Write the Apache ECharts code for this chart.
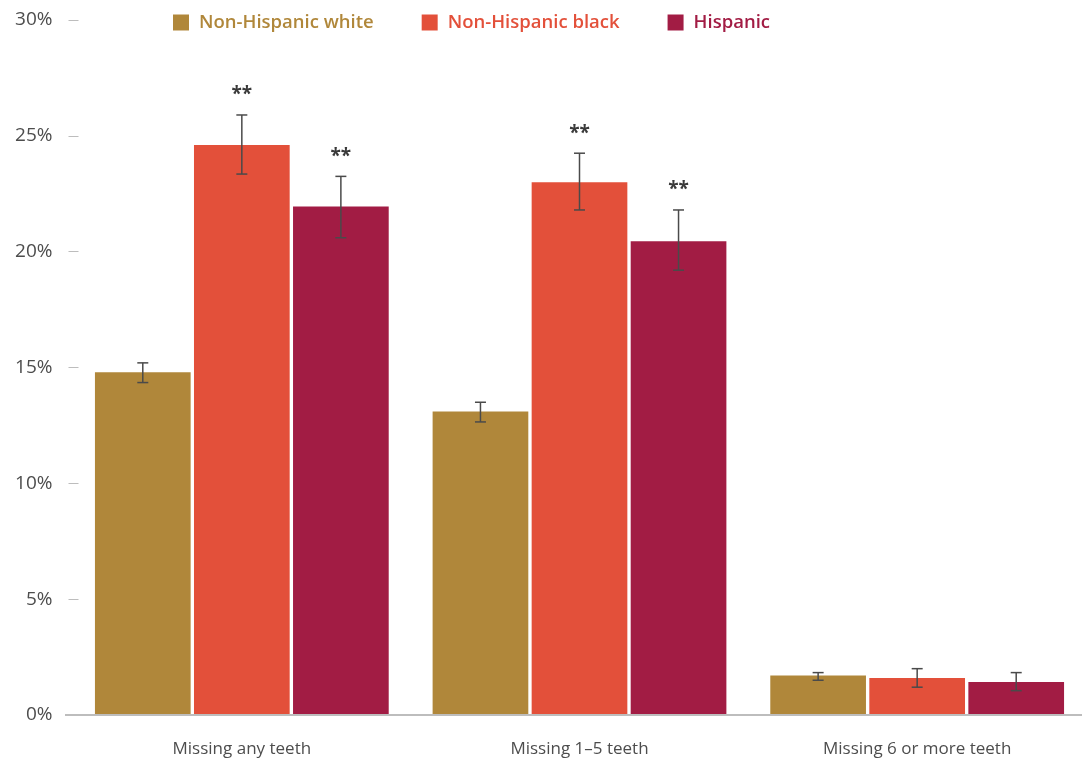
<!DOCTYPE html>
<html><head><meta charset="utf-8">
<script src="https://cdn.jsdelivr.net/npm/echarts@6/dist/echarts.min.js"></script>
<style>html,body{margin:0;padding:0;background:#fff}#c{width:1086px;height:761px}</style>
</head><body><div id="c"></div>
<script>
const categories = ['Missing any teeth', 'Missing 1–5 teeth', 'Missing 6 or more teeth'];
const seriesNames = ['Non-Hispanic white', 'Non-Hispanic black', 'Hispanic'];
const whiteValues = [14.8, 13.1, 1.7];
const blackValues = [24.6, 23.0, 1.6];
const hispanicValues = [21.95, 20.45, 1.42];
const whiteErr = [[14.35, 15.2], [12.65, 13.5], [1.5, 1.83]];
const blackErr = [[23.35, 25.9], [21.8, 24.25], [1.2, 2.0]];
const hispanicErr = [[20.6, 23.25], [19.2, 21.8], [1.05, 1.83]];
const whiteSig = ['', '', ''];
const blackSig = ['**', '**', ''];
const hispanicSig = ['**', '**', ''];
const yTicks = [0, 5, 10, 15, 20, 25, 30];

const colors = ['#B0873A', '#E3503A', '#A21C44'];
const FONT = 'Open Sans';
const CAT_GAP = 0.13, BAR_GAP = 0.035;

const chart = echarts.init(document.getElementById('c'), null, {renderer: 'canvas'});

function errSeries(idx, errs, sigs) {
  return {
    type: 'custom',
    name: seriesNames[idx] + ' err',
    z: 10,
    silent: true,
    data: errs.map((e, i) => [i, e[0], e[1], sigs[i]]),
    renderItem: function (params, api) {
      const band = api.size([1, 0])[0];
      const bw = band * (1 - CAT_GAP) / (3 + 2 * BAR_GAP);
      const off = (idx - 1) * bw * (1 + BAR_GAP);
      const lo = api.coord([api.value(0), api.value(1)]);
      const hi = api.coord([api.value(0), api.value(2)]);
      const x = lo[0] + off;
      const cap = 5.5;
      const st = {stroke: '#4a4a4a', lineWidth: 1.5};
      const children = [
        {type: 'line', shape: {x1: x, y1: lo[1], x2: x, y2: hi[1]}, style: st},
        {type: 'line', shape: {x1: x - cap, y1: lo[1], x2: x + cap, y2: lo[1]}, style: st},
        {type: 'line', shape: {x1: x - cap, y1: hi[1], x2: x + cap, y2: hi[1]}, style: st}
      ];
      const s = sigs[params.dataIndex];
      if (s) {
        children.push({type: 'text', x: x, y: hi[1] - 20, style: {text: s, fill: '#3a3a3a', font: 'bold 19px "' + FONT + '"', align: 'center', verticalAlign: 'middle'}});
      }
      return {type: 'group', children: children};
    }
  };
}

const option = {
  animation: false,
  textStyle: {fontFamily: FONT},
  grid: {left: 73, width: 1017, top: 20, bottom: 46, containLabel: false},
  legend: {
    top: 8, left: 168,
    itemWidth: 16, itemHeight: 16, itemGap: 48, icon: 'rect',
    textStyle: {fontSize: 18.5, fontWeight: 600, fontFamily: FONT, padding: [0, 0, 0, 5]},
    data: seriesNames.map((n, i) => ({name: n, textStyle: {color: colors[i]}}))
  },
  xAxis: {
    type: 'category', data: categories,
    axisLine: {show: false}, axisTick: {show: false},
    axisLabel: {color: '#4d4d4d', fontSize: 17, margin: 26}
  },
  yAxis: {
    type: 'value', min: 0, max: 30, interval: 5, offset: -5.5,
    axisLine: {show: false},
    axisTick: {show: true, length: 10, lineStyle: {color: '#bdbdbd', width: 1}},
    splitLine: {show: false},
    axisLabel: {color: '#4d4d4d', fontSize: 19, margin: 26, formatter: v => yTicks.includes(v) ? v + '%' : ''}
  },
  series: [
    {type: 'bar', name: seriesNames[0], data: whiteValues, itemStyle: {color: colors[0]}, barCategoryGap: (CAT_GAP * 100) + '%', barGap: (BAR_GAP * 100) + '%'},
    {type: 'bar', name: seriesNames[1], data: blackValues, itemStyle: {color: colors[1]}},
    {type: 'bar', name: seriesNames[2], data: hispanicValues, itemStyle: {color: colors[2]}},
    errSeries(0, whiteErr, whiteSig),
    errSeries(1, blackErr, blackSig),
    errSeries(2, hispanicErr, hispanicSig)
  ]
};
chart.setOption(option);
const y0 = chart.convertToPixel({yAxisIndex: 0}, 0);
chart.setOption({graphic: [{type: 'line', z: 100, shape: {x1: 65, y1: y0, x2: 1082, y2: y0}, style: {stroke: '#bdbdbd', lineWidth: 2}}]});
</script></body></html>
